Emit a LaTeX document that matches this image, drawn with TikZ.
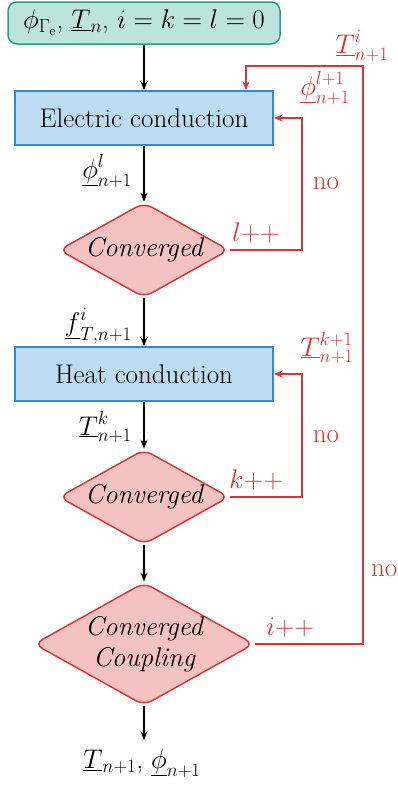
\documentclass[tikz,border=0pt]{standalone}
\usepackage{fix-cm}
\usetikzlibrary{shapes.geometric,arrows.meta}
\definecolor{tealfill}{HTML}{BDE3DD}
\definecolor{tealline}{HTML}{2A9D8F}
\definecolor{bluefill}{HTML}{BDDCF2}
\definecolor{blueline}{HTML}{2F8AD3}
\definecolor{redfill}{HTML}{F5C2C2}
\definecolor{redline}{HTML}{D93636}
\begin{document}
\begin{tikzpicture}[x=1pt,y=-1pt,
  every node/.style={font=\fontsize{27}{32}\selectfont\rmfamily},
  startbox/.style={draw=tealline,fill=tealfill,line width=1.5pt,rounded corners=9pt,minimum width=272pt,minimum height=42pt,inner sep=0pt},
  procbox/.style={draw=blueline,fill=bluefill,line width=1.5pt,minimum width=258pt,minimum height=54pt,inner sep=0pt},
  decbox/.style={diamond,aspect=1.8,draw=redline,fill=redfill,line width=1.5pt,rounded corners=9pt,inner sep=0pt,font=\fontsize{27}{31}\selectfont\rmfamily\itshape,align=center},
  flow/.style={-{Stealth[length=9pt,width=7pt]},line width=1.3pt,black},
  back/.style={-{Stealth[length=9pt,width=7pt]},line width=1.5pt,redline},
  redlab/.style={text=redline,inner sep=0pt}]
\useasboundingbox (0,0) rectangle (397,788);
\node[startbox] (st) at (144,23) {$\phi_{\Gamma_\mathrm{e}}$, $\underline{T}_n$, $i=k=l=0$};
\node[procbox] (ec) at (144,118) {Electric conduction};
\node[decbox,minimum width=170pt,minimum height=95pt] (d1) at (144,250) {Converged};
\node[procbox] (hc) at (144,374) {Heat conduction};
\node[decbox,minimum width=170pt,minimum height=95pt] (d2) at (144,497) {Converged};
\node[decbox,minimum width=220pt,minimum height=123pt] (d3) at (144,644) {Converged\\Coupling};
\node[inner sep=0pt] (out) at (142,764) {$\underline{T}_{n+1}$, $\underline{\phi}_{n+1}$};

\draw[flow] (st) -- (ec);
\draw[flow] (ec) -- (d1);
\draw[flow] (d1) -- (hc);
\draw[flow] (hc) -- (d2);
\draw[flow] (d2) -- (d3);
\draw[flow] (d3.south) -- ++(0,34) coordinate (oe);

\node[anchor=east,inner sep=0pt] (l1) at (132,171) {$\underline{\phi}^{l}_{n+1}$};
\node[anchor=east,inner sep=0pt] (l2) at (132,326) {$\underline{f}^{i}_{T,n+1}$};
\node[anchor=east,inner sep=0pt] (l3) at (132,427) {$\underline{T}^{k}_{n+1}$};

\coordinate (c1) at (302,118);
\coordinate (c2) at (302,374);
\coordinate (c3) at (363,66);
\coordinate (c4) at (246,66);
\draw[back] (d1.east) -| (c1) -- (ec.east);
\draw[back] (d2.east) -| (c2) -- (hc.east);
\draw[back] (d3.east) -| (c3) -- (c4) -- (c4 |- ec.north);

\node[redlab] (ll) at (256,233) {$l$++};
\node[redlab] (kl) at (256,480) {$k$++};
\node[redlab] (il) at (290,628) {$i$++};
\node[redlab] (n1) at (326,184) {no};
\node[redlab] (n2) at (326,437) {no};
\node[redlab,anchor=west] (n3) at (371,571) {no};
\node[redlab] (f1) at (325,88) {$\underline{\phi}^{l+1}_{n+1}$};
\node[redlab] (f2) at (327,348) {$\underline{T}^{k+1}_{n+1}$};
\node[redlab] (f3) at (362,46) {$\underline{T}^{i}_{n+1}$};
\end{tikzpicture}
\end{document}
